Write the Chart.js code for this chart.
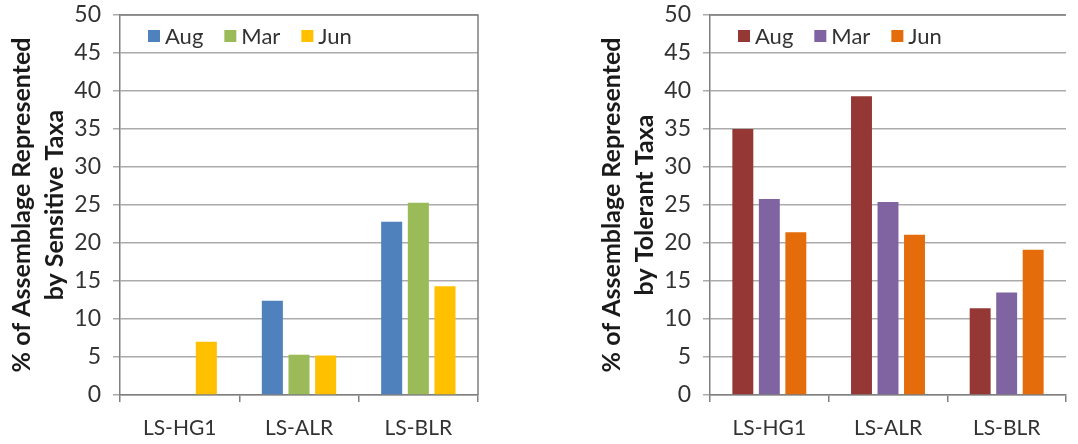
<!DOCTYPE html>
<html>
<head>
<meta charset="utf-8">
<script src="https://cdn.jsdelivr.net/npm/chart.js@4"></script>
<style>
  body { margin: 0; background: #fff; overflow: hidden; }
  .wrap { position: absolute; top: 0; height: 444px; }
  #leftWrap { left: 0; width: 540px; }
  #rightWrap { left: 540px; width: 538px; }
</style>
</head>
<body>
<div class="wrap" id="leftWrap"><canvas id="sensitiveChart" width="540" height="444"></canvas></div>
<div class="wrap" id="rightWrap"><canvas id="tolerantChart" width="538" height="444"></canvas></div>
<script>
// Sites and sampling months
const sites = ['LS-HG1', 'LS-ALR', 'LS-BLR'];
const months = ['Aug', 'Mar', 'Jun'];
const yTicks = [0, 5, 10, 15, 20, 25, 30, 35, 40, 45, 50];

// Sensitive taxa (%)
const sensitiveAug = [0, 12.4, 22.8];
const sensitiveMar = [0, 5.3, 25.3];
const sensitiveJun = [7.0, 5.2, 14.3];

// Tolerant taxa (%)
const tolerantAug = [35.0, 39.3, 11.4];
const tolerantMar = [25.8, 25.4, 13.5];
const tolerantJun = [21.4, 21.1, 19.1];

const FONT = 'Lato, "Open Sans", sans-serif';
const TEXT = '#333333';

// Legend drawn inside plot area, plus top/right frame
const framePlugin = {
    id: 'frame',
    afterDraw(chart, args, opts) {
        const ctx = chart.ctx;
        const a = chart.chartArea;
        ctx.save();
        ctx.strokeStyle = '#7f7f7f';
        ctx.lineWidth = 1.5;
        ctx.beginPath();
        ctx.moveTo(a.left, a.top);
        ctx.lineTo(a.right, a.top);
        if (opts.rightBorder) {
            ctx.lineTo(a.right, a.bottom);
        }
        ctx.stroke();

        // legend
        ctx.font = '22px ' + FONT;
        ctx.textBaseline = 'middle';
        let x = a.left + opts.legendOffset;
        const y = 36;
        chart.data.datasets.forEach(function(ds) {
            ctx.fillStyle = ds.backgroundColor;
            ctx.fillRect(x, y - 6, 12, 12);
            ctx.fillStyle = TEXT;
            ctx.fillText(ds.label, x + 17, y + 1);
            x += 17 + ctx.measureText(ds.label).width + 21;
        });
        ctx.restore();
    }
};

function makeChart(id, title, series, colors, yWidth, titlePad, padRight, rightBorder) {
    const ctx = document.getElementById(id).getContext('2d');
    return new Chart(ctx, {
        type: 'bar',
        data: {
            labels: sites,
            datasets: months.map(function(m, i) {
                return {
                    label: m,
                    data: series[i],
                    backgroundColor: colors[i],
                    categoryPercentage: 0.67,
                    barPercentage: 0.79
                };
            })
        },
        options: {
            responsive: false,
            animation: false,
            layout: { padding: { top: 15, right: padRight, left: 0, bottom: 0 } },
            plugins: {
                legend: { display: false },
                tooltip: { enabled: false },
                frame: { rightBorder: rightBorder, legendOffset: 28 }
            },
            scales: {
                x: {
                    offset: true,
                    grid: { offset: true, drawOnChartArea: false, drawTicks: true, tickLength: 7, color: '#7f7f7f', lineWidth: 1.5 },
                    border: { color: '#7f7f7f', width: 1.5 },
                    ticks: { color: TEXT, font: { family: FONT, size: 21 }, padding: 14 },
                    afterFit: function(scale) { scale.height = 49; }
                },
                y: {
                    min: 0,
                    max: 50,
                    afterBuildTicks: function(scale) { scale.ticks = yTicks.map(function(v) { return { value: v }; }); },
                    grid: { color: '#ababab', lineWidth: 1.5, drawTicks: true, tickLength: 7 },
                    border: { color: '#7f7f7f', width: 1.5 },
                    ticks: { color: TEXT, font: { family: FONT, size: 23 }, padding: 12 },
                    title: {
                        display: true,
                        text: title,
                        color: '#1a1a1a',
                        font: { family: FONT, size: 25, weight: 'bold', lineHeight: 1.3 },
                        padding: { top: titlePad, bottom: 0 }
                    },
                    afterFit: function(scale) {
                        scale.width = yWidth;
                        scale.paddingTop = 0;
                        scale.paddingBottom = 0;
                    }
                }
            }
        },
        plugins: [framePlugin]
    });
}

function initCharts() {
    makeChart('sensitiveChart',
        ['% of Assemblage Represented', 'by Sensitive Taxa'],
        [sensitiveAug, sensitiveMar, sensitiveJun],
        ['#4f81bd', '#9bbb59', '#ffc000'],
        120, 6, 62, true);
    makeChart('tolerantChart',
        ['% of Assemblage Represented', 'by Tolerant Taxa'],
        [tolerantAug, tolerantMar, tolerantJun],
        ['#953735', '#8064a2', '#e46c0a'],
        170, 56, 12, false);
}

document.addEventListener('DOMContentLoaded', initCharts);
</script>
</body>
</html>
